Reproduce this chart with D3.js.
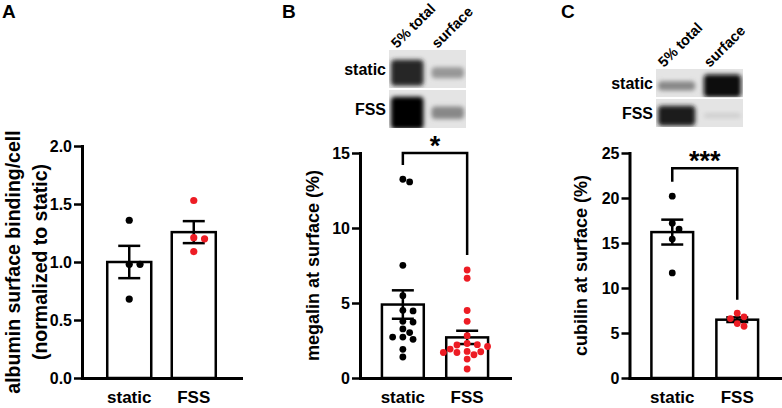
<!DOCTYPE html>
<html>
<head>
<meta charset="utf-8">
<script src="https://cdn.jsdelivr.net/npm/d3@7"></script>
<style>
  body { margin: 0; background: #fff; }
  svg text { font-family: 'Liberation Sans', Arial, Helvetica, sans-serif; font-weight: bold; fill: #000; }
  .axis path, .axis line { stroke: #000; }
</style>
</head>
<body>
<div id="chart"></div>
<script>
// values
var categories = ['static', 'FSS'];

var albuminStatic = [1.36, 0.98, 0.98, 0.68];
var albuminFSS = [1.53, 1.21, 1.20, 1.09];
var albuminTicks = [0, 0.5, 1, 1.5, 2];

var megalinStatic = [13.25, 13.07, 7.51, 5.49, 4.47, 4.51, 3.73, 3.78, 3.27, 3.03, 2.73, 2.73, 2.58, 1.91, 1.40];
var megalinFSS = [7.2, 6.65, 4.5, 3.78, 2.82, 2.3, 2.1, 2.22, 2.2, 1.93, 1.55, 1.77, 1.75, 1.7, 1.7, 1.26, 0.6];
var megalinTicks = [0, 5, 10, 15];
var megalinBracket = [14.2, 15, 8.2]; // left end, top, right end
var megalinStars = '*';

var cubilinStatic = [20.2, 16.55, 17.2, 15.44, 11.67];
var cubilinFSS = [6.8, 5.75, 6.6, 7.2, 6.05];
var cubilinTicks = [0, 5, 10, 15, 20, 25];
var cubilinBracket = [21.8, 23.3, 8.7];
var cubilinStars = '***';

// western blot band strength, rows x lanes
var blotLanes = ['5% total', 'surface'];
var blotRows = ['static', 'FSS'];
var megalinBlot = [[0.88, 0.5], [1.0, 0.55]];
var cubilinBlot = [[0.55, 0.97], [0.9, 0.3]];

var colors = { static: '#000', FSS: '#ed1c24' };

var svg = d3.select('#chart').append('svg')
  .attr('width', 782)
  .attr('height', 408);

var defs = svg.append('defs');
defs.append('filter')
  .attr('id', 'blur')
  .attr('x', '-20%').attr('y', '-50%')
  .attr('width', '140%').attr('height', '200%')
  .append('feGaussianBlur')
  .attr('stdDeviation', 2.2);

// simple deterministic beeswarm: greedy, nearest free slot to the centre
function swarm(values, cx, y, r) {
  var placed = [],
    xs = new Array(values.length);
  var order = values.map(function (v, i) { return i; })
    .sort(function (a, b) { return values[b] - values[a]; });
  order.forEach(function (i) {
    var py = y(values[i]);
    for (var k = 0; k < 40; k++) {
      var off = k === 0 ? 0 : (k % 2 ? 1 : -1) * Math.ceil(k / 2) * r;
      var ok = placed.every(function (q) {
        return Math.hypot(q.x - (cx + off), q.y - py) >= 2.1 * r;
      });
      if (ok) {
        xs[i] = cx + off;
        placed.push({ x: cx + off, y: py });
        break;
      }
    }
  });
  return xs;
}

function drawPanel(p) {
  var g = svg.append('g');

  var x = d3.scaleBand()
    .domain(categories)
    .range([p.x0, p.x1])
    .paddingInner(p.padInner)
    .paddingOuter(p.padOuter);

  var y = d3.scaleLinear()
    .domain([p.ticks[0], p.ticks[p.ticks.length - 1]])
    .range([p.y0, p.y1]);

  var groups = categories.map(function (c, i) {
    var v = p.values[i];
    return { key: c, values: v, mean: d3.mean(v), sem: d3.deviation(v) / Math.sqrt(v.length) };
  });

  // bars
  g.selectAll('rect.bar')
    .data(groups)
    .enter().append('rect')
    .attr('class', 'bar')
    .attr('x', function (d) { return x(d.key); })
    .attr('width', x.bandwidth())
    .attr('y', function (d) { return y(d.mean); })
    .attr('height', function (d) { return p.y0 - y(d.mean); })
    .attr('fill', '#fff')
    .attr('stroke', '#000')
    .attr('stroke-width', 2.5);

  // error bars (mean +/- SEM)
  var cap = 11;
  var err = g.selectAll('g.err')
    .data(groups)
    .enter().append('g')
    .attr('class', 'err')
    .attr('stroke', '#000')
    .attr('stroke-width', 2.5);
  err.append('line')
    .attr('x1', function (d) { return x(d.key) + x.bandwidth() / 2; })
    .attr('x2', function (d) { return x(d.key) + x.bandwidth() / 2; })
    .attr('y1', function (d) { return y(d.mean - d.sem); })
    .attr('y2', function (d) { return y(d.mean + d.sem); });
  [1, -1].forEach(function (s) {
    err.append('line')
      .attr('x1', function (d) { return x(d.key) + x.bandwidth() / 2 - cap; })
      .attr('x2', function (d) { return x(d.key) + x.bandwidth() / 2 + cap; })
      .attr('y1', function (d) { return y(d.mean + s * d.sem); })
      .attr('y2', function (d) { return y(d.mean + s * d.sem); });
  });

  // dots
  groups.forEach(function (d) {
    var xs = swarm(d.values, x(d.key) + x.bandwidth() / 2, y, p.r);
    g.selectAll(null)
      .data(d.values)
      .enter().append('circle')
      .attr('cx', function (v, i) { return xs[i]; })
      .attr('cy', function (v) { return y(v); })
      .attr('r', p.r)
      .attr('fill', colors[d.key]);
  });

  // y axis
  var yAxis = g.append('g')
    .attr('class', 'axis')
    .attr('transform', 'translate(' + p.x0 + ',0)')
    .call(d3.axisLeft(y).tickValues(p.ticks).tickFormat(p.format)
      .tickSize(8).tickPadding(2).tickSizeOuter(0));
  yAxis.select('.domain').attr('stroke-width', 3).attr('stroke-linecap', 'square');
  yAxis.selectAll('.tick line').attr('stroke-width', 2.5);
  yAxis.selectAll('text').style('font-size', '16px');

  // x axis
  var xAxis = g.append('g')
    .attr('class', 'axis')
    .attr('transform', 'translate(0,' + p.y0 + ')')
    .call(d3.axisBottom(x).tickSize(0).tickPadding(13));
  xAxis.select('.domain').attr('stroke-width', 3).attr('stroke-linecap', 'square');
  xAxis.selectAll('text').style('font-size', '17px');

  // axis title
  var cy = (p.y0 + p.y1) / 2;
  p.title.forEach(function (t, i) {
    g.append('text')
      .attr('transform', 'translate(' + p.titleX[i] + ',' + cy + ') rotate(-90)')
      .attr('text-anchor', 'middle')
      .style('font-size', p.titleSize + 'px')
      .text(t);
  });

  // significance bracket
  if (p.bracket) {
    var xa = x(categories[0]) + x.bandwidth() / 2,
      xb = x(categories[1]) + x.bandwidth() / 2,
      top = y(p.bracket[1]);
    g.append('path')
      .attr('d', 'M' + xa + ',' + y(p.bracket[0]) + 'V' + top + 'H' + xb + 'V' + y(p.bracket[2]))
      .attr('fill', 'none')
      .attr('stroke', '#000')
      .attr('stroke-width', 2.5);
    g.append('text')
      .attr('x', (xa + xb) / 2)
      .attr('y', top + 2)
      .attr('text-anchor', 'middle')
      .style('font-size', '27px')
      .text(p.stars);
  }

  // panel letter
  g.append('text')
    .attr('x', p.letterX)
    .attr('y', 18)
    .style('font-size', '19px')
    .text(p.letter);
}

function drawBlot(b) {
  var g = svg.append('g');
  var lx = d3.scaleBand().domain(blotLanes).range([b.x0, b.x1]).paddingInner(0.1);
  var ry = d3.scaleBand().domain(blotRows).range([b.y0, b.y1]).paddingInner(0.05);

  blotRows.forEach(function (row, ri) {
    var id = 'clip-' + b.id + '-' + ri;
    defs.append('clipPath').attr('id', id)
      .append('rect')
      .attr('x', b.x0).attr('y', ry(row))
      .attr('width', b.x1 - b.x0).attr('height', ry.bandwidth());

    var rg = g.append('g').attr('clip-path', 'url(#' + id + ')');
    rg.append('rect')
      .attr('x', b.x0).attr('y', ry(row))
      .attr('width', b.x1 - b.x0).attr('height', ry.bandwidth())
      .attr('fill', '#e4e4e4');

    var h = ry.bandwidth();
    rg.selectAll(null)
      .data(b.intensity[ri])
      .enter().append('rect')
      .attr('x', function (v, i) { return lx(blotLanes[i]) + 2; })
      .attr('width', lx.bandwidth() - 4)
      .attr('height', function (v) { return h * (0.1 + 0.75 * v * v); })
      .attr('y', function (v) { return ry(row) + h * 0.6 - h * (0.1 + 0.75 * v * v) / 2; })
      .attr('rx', 4)
      .attr('fill', function (v) { return d3.interpolateGreys(v); })
      .attr('filter', 'url(#blur)');

    g.append('text')
      .attr('x', b.x0 - 3)
      .attr('y', ry(row) + h / 2)
      .attr('dy', '0.36em')
      .attr('text-anchor', 'end')
      .style('font-size', '16px')
      .text(row);
  });

  g.selectAll(null)
    .data(blotLanes)
    .enter().append('text')
    .attr('transform', function (d) {
      return 'translate(' + (lx(d) + 8) + ',' + (b.y0 - 1) + ') rotate(-45)';
    })
    .style('font-size', '14.5px')
    .text(function (d) { return d; });
}

drawPanel({
  letter: 'A', letterX: 2,
  x0: 82, x1: 241, y0: 378, y1: 146, padInner: 0.318, padOuter: 0.391,
  values: [albuminStatic, albuminFSS], ticks: albuminTicks, format: d3.format('.1f'),
  title: ['albumin surface binding/cell', '(normalized to static)'], titleX: [20, 47], titleSize: 19.5,
  r: 3.6
});

drawPanel({
  letter: 'B', letterX: 282,
  x0: 360, x1: 510, y0: 378, y1: 153, padInner: 0.349, padOuter: 0.341,
  values: [megalinStatic, megalinFSS], ticks: megalinTicks, format: d3.format('d'),
  title: ['megalin at surface (%)'], titleX: [319], titleSize: 18,
  bracket: megalinBracket, stars: megalinStars,
  r: 3.4
});

drawPanel({
  letter: 'C', letterX: 561,
  x0: 629.5, x1: 780, y0: 378, y1: 153, padInner: 0.358, padOuter: 0.337,
  values: [cubilinStatic, cubilinFSS], ticks: cubilinTicks, format: d3.format('d'),
  title: ['cubilin at surface (%)'], titleX: [587], titleSize: 18,
  bracket: cubilinBracket, stars: cubilinStars,
  r: 3.4
});

drawBlot({ id: 'b', x0: 389, x1: 466, y0: 50, y1: 128, intensity: megalinBlot });
drawBlot({ id: 'c', x0: 656, x1: 743, y0: 69, y1: 127, intensity: cubilinBlot });
</script>
</body>
</html>
